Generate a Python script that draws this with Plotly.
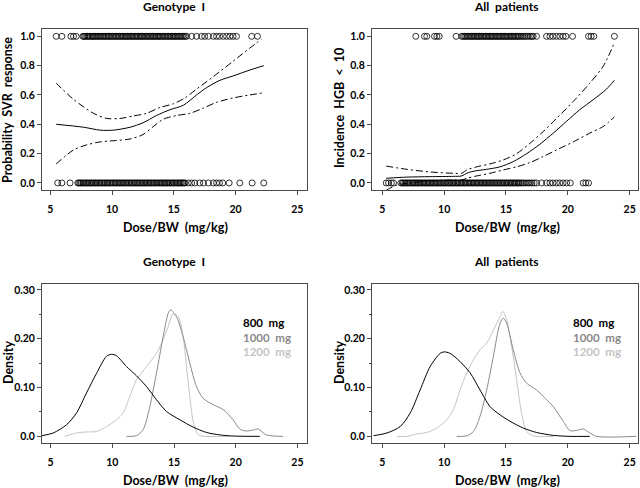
import plotly.graph_objects as go

# ---------------- data ----------------
# Top-left: Genotype 1, SVR response (observed 0/1 by Dose/BW)
svr_yes_x = [5.48, 5.94, 6.67, 6.88, 7.1,
             7.64, 7.72, 7.81, 7.93, 8.02, 8.15, 8.24, 8.38, 8.47, 8.55, 8.69, 8.78, 8.9, 9.03, 9.12, 9.26,
             9.35, 9.47, 9.58, 9.71, 9.8, 9.92, 10.05, 10.14, 10.27, 10.36, 10.48, 10.6, 10.71, 10.83, 10.92,
             11.05, 11.16, 11.24, 11.37, 11.49, 11.58, 11.7, 11.82, 11.93, 12.04, 12.15, 12.27, 12.38, 12.46,
             12.59, 12.7, 12.81, 12.93, 13.02, 13.14, 13.26, 13.35, 13.47, 13.58, 13.7, 13.81, 13.9, 14.03,
             14.14, 14.25, 14.36, 14.48, 14.57, 14.69, 14.8, 14.92, 15.03, 15.12, 15.25, 15.36, 15.47, 15.58,
             15.7, 15.81, 15.93, 16.04,
             16.44, 16.84, 17.25, 17.5, 17.8, 18.2, 18.46, 18.7, 19.0, 19.27, 19.54, 19.8, 20.07, 21.3, 21.77]
svr_no_x = [5.6, 5.94, 6.6,
            7.23, 7.31, 7.42, 7.5, 7.63, 7.71, 7.84, 7.95, 8.03, 8.16, 8.27, 8.35, 8.48, 8.59, 8.68, 8.8,
            8.91, 9.02, 9.14, 9.23, 9.36, 9.45, 9.58, 9.67, 9.79, 9.9, 10.02, 10.11, 10.24, 10.33, 10.45,
            10.57, 10.66, 10.79, 10.88, 11.0, 11.12, 11.21, 11.34, 11.43, 11.56, 11.65, 11.77, 11.88, 12.0,
            12.09, 12.22, 12.31, 12.44, 12.55, 12.64, 12.77, 12.86, 12.98, 13.1, 13.19, 13.32, 13.41, 13.53,
            13.64, 13.75, 13.87, 13.96, 14.08, 14.2, 14.29, 14.42, 14.51, 14.63, 14.74, 14.85, 14.97, 15.06,
            15.18, 15.3, 15.39, 15.52, 15.61, 15.73, 15.82, 15.9,
            16.17, 16.44, 16.7, 17.1, 17.4, 17.8, 18.2, 18.46, 18.7, 18.96, 19.48, 20.34, 21.34, 22.28]
svr_fit_x = [5.48, 7.7, 9.04, 10.1, 11.46, 12.5, 13.6, 14.7, 15.77, 16.84, 17.65, 18.73, 19.8, 21.15, 22.28]
svr_fit_y = [0.40, 0.38, 0.36, 0.36, 0.38, 0.41, 0.46, 0.50, 0.53, 0.60, 0.65, 0.70, 0.73, 0.77, 0.80]
svr_hi_x = [5.48, 6.88, 8.5, 9.58, 10.65, 11.73, 12.8, 13.88, 14.96, 15.9, 16.84, 18.19, 19.8, 21.15, 22.1]
svr_hi_y = [0.68, 0.57, 0.475, 0.44, 0.44, 0.457, 0.475, 0.515, 0.54, 0.58, 0.64, 0.725, 0.83, 0.92, 0.98]
svr_lo_x = [5.48, 6.88, 7.96, 9.04, 10.38, 11.46, 12.5, 13.34, 14.15, 15.23, 16.3, 17.38, 18.46, 19.8, 21.15, 22.28]
svr_lo_y = [0.13, 0.225, 0.26, 0.28, 0.29, 0.30, 0.33, 0.385, 0.435, 0.46, 0.475, 0.51, 0.55, 0.58, 0.60, 0.615]

# Top-right: All patients, incidence HGB < 10
hgb_yes_x = [7.71, 8.41, 8.6, 9.22, 9.41, 9.6, 10.97,
             11.42, 11.53, 11.66, 11.75, 11.88, 11.99, 12.1, 12.22, 12.31, 12.44, 12.55, 12.67, 12.78, 12.86,
             12.99, 13.1, 13.21, 13.33, 13.42, 13.55, 13.66, 13.77, 13.88, 13.97, 14.1, 14.21, 14.32, 14.44,
             14.53, 14.66, 14.77, 14.88, 14.99, 15.08, 15.21, 15.32, 15.43, 15.55, 15.64, 15.77, 15.88, 15.99,
             16.11, 16.24, 16.38, 16.5, 16.65, 16.8, 16.96, 17.1, 17.2,
             17.47, 18.28, 18.55, 18.8, 19.08, 19.35, 19.62, 19.84, 20.38, 21.67, 21.88, 22.1, 23.76]
hgb_no_x = [5.32, 5.51, 5.73, 5.91,
            6.5, 6.62, 6.71, 6.84, 6.95, 7.04, 7.17, 7.26, 7.39, 7.5, 7.59, 7.72, 7.83, 7.92, 8.05, 8.14,
            8.27, 8.38, 8.47, 8.6, 8.71, 8.8, 8.93, 9.04, 9.13, 9.26, 9.37, 9.46, 9.59, 9.7, 9.79, 9.92,
            10.03, 10.12, 10.25, 10.36, 10.45, 10.58, 10.69, 10.78, 10.91, 11.02, 11.11, 11.24, 11.35, 11.44,
            11.57, 11.68, 11.77, 11.9, 12.01, 12.1, 12.23, 12.34, 12.43, 12.56, 12.67, 12.76, 12.89, 13.0,
            13.09, 13.22, 13.33, 13.42, 13.55, 13.66, 13.75, 13.88, 13.99, 14.08, 14.21, 14.32, 14.41, 14.54,
            14.65, 14.74, 14.87, 14.98, 15.07, 15.2, 15.31, 15.4, 15.53, 15.64, 15.73, 15.86, 15.97, 16.06,
            16.19, 16.3, 16.45, 16.6, 16.78, 16.93, 17.1, 17.28, 17.47,
            17.88, 18.28, 18.55, 18.8, 19.08, 19.35, 19.62, 19.9, 20.2, 21.24, 21.45, 21.67]
hgb_fit_x = [5.32, 6.99, 8.87, 10.75, 11.42, 11.83, 12.37, 13.44, 14.52, 15.59, 16.67, 17.74, 18.82,
             19.89, 20.97, 22.04, 23.12, 23.76]
hgb_fit_y = [0.032, 0.04, 0.043, 0.045, 0.048, 0.066, 0.08, 0.093, 0.11, 0.146, 0.2, 0.264, 0.34,
             0.42, 0.5, 0.567, 0.64, 0.70]
hgb_hi_x = [5.32, 6.99, 8.87, 10.75, 11.42, 11.83, 12.64, 13.71, 14.78, 15.86, 16.93, 18.0, 19.08,
            20.43, 21.77, 22.85, 23.76]
hgb_hi_y = [0.115, 0.093, 0.075, 0.066, 0.066, 0.089, 0.11, 0.13, 0.157, 0.2, 0.27, 0.35, 0.44,
            0.555, 0.68, 0.795, 0.955]
hgb_lo_x = [5.32, 6.18, 7.26, 8.87, 10.75, 11.42, 11.83, 12.64, 13.71, 14.78, 15.86, 16.93, 18.0,
            19.08, 20.43, 21.77, 22.85, 23.76]
hgb_lo_y = [-0.05, -0.014, 0.0, 0.014, 0.02, 0.02, 0.032, 0.048, 0.066, 0.089, 0.11, 0.139, 0.18,
            0.225, 0.28, 0.34, 0.385, 0.45]

# Bottom-left: Genotype 1 densities
g1_800_x = [4.3, 5.22, 6.3, 7.1, 7.91, 8.72, 9.53, 9.94, 10.34, 11.15, 11.96, 12.77, 13.58, 14.39,
            15.47, 16.55, 17.63, 18.71, 19.79, 21.95]
g1_800_y = [0.0014, 0.007, 0.024, 0.048, 0.089, 0.129, 0.164, 0.168, 0.165, 0.143, 0.124, 0.102, 0.075,
            0.051, 0.034, 0.019, 0.008, 0.003, 0.0007, 0.0]
g1_1000_x = [11.15, 11.96, 12.5, 13.04, 13.58, 14.12, 14.53, 14.72, 15.2, 15.74, 16.28, 16.82, 17.36,
             18.17, 18.98, 19.79, 20.33, 20.87, 21.41, 21.82, 22.49, 23.84]
g1_1000_y = [0.0, 0.0014, 0.014, 0.061, 0.13, 0.204, 0.252, 0.259, 0.245, 0.204, 0.15, 0.102, 0.078,
             0.065, 0.055, 0.034, 0.015, 0.011, 0.013, 0.015, 0.003, 0.0]
g1_1200_x = [6.16, 7.1, 7.91, 8.72, 9.53, 10.34, 10.88, 11.42, 11.96, 12.77, 13.58, 14.12, 14.53, 14.93,
             15.34, 15.74, 16.01, 16.28, 16.55, 16.96, 17.63, 19.52]
g1_1200_y = [0.0, 0.007, 0.009, 0.01, 0.02, 0.034, 0.048, 0.082, 0.116, 0.143, 0.17, 0.198, 0.225, 0.251,
             0.245, 0.204, 0.143, 0.082, 0.031, 0.003, 0.0, 0.0]

# Bottom-right: All patients densities
all_800_x = [4.3, 5.38, 6.45, 7.26, 8.06, 8.87, 9.68, 10.0, 10.48, 11.29, 12.1, 12.9, 13.71, 14.52,
             15.32, 16.4, 17.47, 18.82, 20.16, 21.77]
all_800_y = [0.0014, 0.007, 0.02, 0.048, 0.095, 0.143, 0.17, 0.173, 0.17, 0.153, 0.13, 0.095, 0.061,
             0.044, 0.031, 0.017, 0.008, 0.002, 0.0, 0.0]
all_1000_x = [11.02, 11.83, 12.37, 12.9, 13.44, 13.98, 14.52, 14.78, 15.05, 15.59, 16.13, 16.67, 17.47,
              18.28, 18.82, 19.62, 20.16, 20.7, 21.24, 21.77, 22.31, 25.54]
all_1000_y = [0.0, 0.001, 0.01, 0.041, 0.095, 0.164, 0.232, 0.242, 0.232, 0.177, 0.13, 0.109, 0.095,
              0.075, 0.061, 0.031, 0.012, 0.012, 0.015, 0.007, 0.0, 0.0]
all_1200_x = [6.18, 6.99, 7.8, 8.6, 9.41, 10.22, 10.75, 11.29, 11.83, 12.37, 12.9, 13.44, 13.98, 14.52,
              14.73, 15.05, 15.46, 15.86, 16.26, 16.67, 17.2, 18.82]
all_1200_y = [0.0, 0.0, 0.005, 0.008, 0.017, 0.034, 0.055, 0.095, 0.13, 0.157, 0.177, 0.191, 0.218, 0.245,
              0.256, 0.239, 0.184, 0.116, 0.048, 0.01, 0.001, 0.0]

x_ticks = [5, 10, 15, 20, 25]
prob_ticks = [0.0, 0.2, 0.4, 0.6, 0.8, 1.0]
prob_labels = ["0.0", "0.2", "0.4", "0.6", "0.8", "1.0"]
dens_ticks = [0.0, 0.1, 0.2, 0.3]
dens_labels = ["0.0", "0.10", "0.20", "0.30"]
dose_labels = ["800  mg", "1000  mg", "1200  mg"]
dose_colors = ["#000000", "#8a8a8a", "#c4c4c4"]

# ---------------- figure ----------------
W, H = 640, 488
FONT = "Lato"
fig = go.Figure()

def scatter_rows(xs, yval, ax):
    fig.add_trace(go.Scatter(x=xs, y=[yval] * len(xs), mode="markers", xaxis=ax[0], yaxis=ax[1],
                             marker=dict(symbol="circle-open", size=6, color="black",
                                         line=dict(width=0.8, color="black")),
                             showlegend=False, hoverinfo="skip"))

def line(xs, ys, ax, dash="solid", color="black", width=1.0):
    fig.add_trace(go.Scatter(x=xs, y=ys, mode="lines", xaxis=ax[0], yaxis=ax[1],
                             line=dict(color=color, width=width, dash=dash, shape="spline", smoothing=0.8),
                             showlegend=False, hoverinfo="skip"))

A1, A2, A3, A4 = ("x", "y"), ("x2", "y2"), ("x3", "y3"), ("x4", "y4")
DD = "7px,3px,2px,3px"

scatter_rows(svr_yes_x, 1.0, A1)
scatter_rows(svr_no_x, 0.0, A1)
line(svr_fit_x, svr_fit_y, A1)
line(svr_hi_x, svr_hi_y, A1, dash=DD)
line(svr_lo_x, svr_lo_y, A1, dash=DD)

scatter_rows(hgb_yes_x, 1.0, A2)
scatter_rows(hgb_no_x, 0.0, A2)
line(hgb_fit_x, hgb_fit_y, A2)
line(hgb_hi_x, hgb_hi_y, A2, dash=DD)
line(hgb_lo_x, hgb_lo_y, A2, dash=DD)

line(g1_1200_x, g1_1200_y, A3, color=dose_colors[2])
line(g1_1000_x, g1_1000_y, A3, color=dose_colors[1])
line(g1_800_x, g1_800_y, A3, color=dose_colors[0])

line(all_1200_x, all_1200_y, A4, color=dose_colors[2])
line(all_1000_x, all_1000_y, A4, color=dose_colors[1])
line(all_800_x, all_800_y, A4, color=dose_colors[0])

def px(xp):
    return xp / W

def py(yp):
    return 1 - yp / H

axis_common = dict(showline=True, mirror=True, linecolor="#4a4a4a", linewidth=1, ticks="outside",
                   ticklen=4, tickcolor="#4a4a4a", tickwidth=1, showgrid=False, zeroline=False,
                   tickfont=dict(family=FONT, size=10.5, color="black", weight="bold"))

xl_dom = [px(42), px(307)]
xr_dom = [px(372), px(638)]
yt_dom = [py(190), py(29)]
yb_dom = [py(443), py(284)]

fig.update_layout(
    width=W, height=H, margin=dict(l=0, r=0, t=0, b=0, autoexpand=False),
    paper_bgcolor="white", plot_bgcolor="white", showlegend=False,
    xaxis=dict(domain=xl_dom, range=[4.33, 25.78], tickvals=x_ticks, anchor="y",
               ticklabelstandoff=5, **axis_common),
    yaxis=dict(domain=yt_dom, range=[-0.048, 1.05], tickvals=prob_ticks, ticktext=prob_labels,
               anchor="x", **axis_common),
    xaxis2=dict(domain=xr_dom, range=[4.17, 25.67], tickvals=x_ticks, anchor="y2",
                ticklabelstandoff=5, **axis_common),
    yaxis2=dict(domain=yt_dom, range=[-0.048, 1.05], tickvals=prob_ticks, ticktext=prob_labels,
                anchor="x2", **axis_common),
    xaxis3=dict(domain=xl_dom, range=[4.3, 25.78], tickvals=x_ticks, anchor="y3",
                ticklabelstandoff=5, **axis_common),
    yaxis3=dict(domain=yb_dom, range=[-0.0136, 0.312], tickvals=dens_ticks, ticktext=dens_labels,
                anchor="x3", minor=dict(tickvals=[0.05, 0.15, 0.25], ticks="outside", ticklen=2,
                                        tickcolor="#4a4a4a"), **axis_common),
    xaxis4=dict(domain=xr_dom, range=[4.17, 25.67], tickvals=x_ticks, anchor="y4",
                ticklabelstandoff=5, **axis_common),
    yaxis4=dict(domain=yb_dom, range=[-0.0136, 0.312], tickvals=dens_ticks, ticktext=dens_labels,
                anchor="x4", minor=dict(tickvals=[0.05, 0.15, 0.25], ticks="outside", ticklen=2,
                                        tickcolor="#4a4a4a"), **axis_common),
)

NB = "\u00a0"
def txt(s):
    return s.replace("  ", NB + NB).replace(" ", NB)

def ann(text, x, y, size=12, angle=0, color="black", xanchor="center"):
    fig.add_annotation(text=txt(text), x=px(x), y=py(y), xref="paper", yref="paper",
                       showarrow=False, textangle=angle, xanchor=xanchor, yanchor="middle",
                       font=dict(family=FONT, size=size, color=color, weight="bold"))

# panel titles
ann("Genotype  I", 174, 6.5, size=12)
ann("All  patients", 506, 6.5, size=12)
ann("Genotype  I", 174, 261, size=12)
ann("All  patients", 506, 261, size=12)
# x titles
ann("Dose/BW  (mg/kg)", 175, 228, size=12.5)
ann("Dose/BW  (mg/kg)", 507, 228, size=12.5)
ann("Dose/BW  (mg/kg)", 175, 480, size=12.5)
ann("Dose/BW  (mg/kg)", 507, 480, size=12.5)
# y titles
ann("Probability  SVR  response", 8, 110, size=12.5, angle=-90)
ann("Incidence  HGB  <  10", 339, 108, size=12.5, angle=-90)
ann("Density", 8, 363, size=12.5, angle=-90)
ann("Density", 339, 363, size=12.5, angle=-90)
# dose labels
for lbl, col, yy in zip(dose_labels, dose_colors, [322, 337.5, 351.5]):
    ann(lbl, 241, yy, size=11.5, color=col, xanchor="left")
    ann(lbl, 571, yy, size=11.5, color=col, xanchor="left")

fig.write_html("out.html", config={"displayModeBar": False},
               post_script="document.body.style.margin='0';document.body.style.padding='0';")
